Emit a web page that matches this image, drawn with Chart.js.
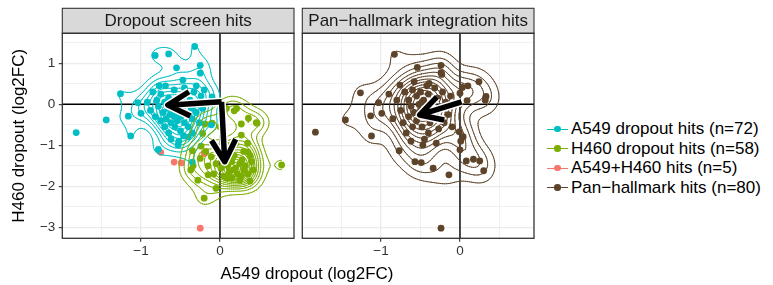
<!DOCTYPE html>
<html>
<head>
<meta charset="utf-8">
<script src="https://cdn.jsdelivr.net/npm/chart.js@4.4.0/dist/chart.umd.min.js"></script>
<style>
  body { margin: 0; background: #fff; font-family: "Liberation Sans", Arial, sans-serif; }
  #wrap { position: relative; width: 773px; height: 285px; overflow: hidden; }
  #c1 { position: absolute; left: 0; top: 0; }
  #c2 { position: absolute; left: 298px; top: 0; }
  #xtitle { position: absolute; left: 157px; width: 300px; top: 264px; line-height: 20px;
            text-align: center; font-size: 17px; color: #000; white-space: nowrap; }
  #legend { position: absolute; left: 545px; top: 119px; font-size: 17px; color: #000; }
  .item { position: relative; height: 19.5px; line-height: 20px; padding-left: 26px; white-space: nowrap; }
  .key { position: absolute; left: 2px; top: 9.5px; width: 21px; height: 1.2px; }
  .dot { position: absolute; left: 7.2px; top: -2.7px; width: 6.6px; height: 6.6px; border-radius: 50%; }
</style>
</head>
<body>
<div id="wrap">
  <canvas id="c1" width="298" height="285"></canvas>
  <canvas id="c2" width="240" height="285"></canvas>
  <div id="xtitle">A549 dropout (log2FC)</div>
  <div id="legend"></div>
</div>
<script>
// ---- data (x = A549 log2FC, y = H460 log2FC) ----
const a549Hits = [
  [-0.82,1.19],[-0.65,1.23],[-0.32,1.41],[-0.25,0.95],[-0.25,0.76],[-0.55,0.89],[-1.26,0.26],[-1.04,0.04],
  [-1.16,-0.29],[-1.44,-0.38],[-1.82,-0.69],[-1.13,-0.77],[-0.10,0.18],[-0.77,0.45],[-0.69,0.45],[-0.47,0.59],
  [-1.00,-0.22],[-0.78,-1.10],[-0.35,-1.41],[-0.11,-0.50],[-0.46,-0.77],[-0.53,-0.99],
  [-0.85,0.30],[-0.80,0.10],[-0.78,-0.05],[-0.75,0.25],[-0.72,-0.20],[-0.70,0.05],[-0.68,-0.35],[-0.66,-0.10],
  [-0.65,0.15],[-0.63,-0.25],[-0.62,-0.45],[-0.60,0.00],[-0.60,-0.15],[-0.58,-0.30],[-0.57,-0.55],[-0.55,0.10],
  [-0.55,-0.20],[-0.54,-0.40],[-0.52,-0.05],[-0.50,-0.30],[-0.50,-0.65],[-0.48,0.20],[-0.47,-0.15],[-0.45,-0.45],
  [-0.44,0.00],[-0.42,-0.25],[-0.40,-0.55],[-0.38,0.10],[-0.36,-0.10],[-0.35,-0.35],[-0.33,0.30],[-0.30,-0.20],
  [-0.28,0.00],[-0.26,-0.45],[-0.24,0.20],[-0.22,-0.10],[-0.70,-0.55],[-0.82,-0.30],[-0.88,-0.15],[-0.65,-0.70],
  [-0.58,0.35],[-0.45,0.40],[-0.40,-0.80],[-0.62,-0.85],[-0.75,-0.40],[-0.52,-0.90],[-0.30,0.45],[-0.92,0.05],
  [-0.20,0.35],[-0.35,-0.70]
];
const h460Hits = [
  [0.46,-0.45],[0.27,-0.48],[0.18,-0.16],[-0.19,-0.48],[-0.22,-0.71],[0.27,-0.75],[0.35,-1.16],[0.78,-1.48],
  [-0.20,-2.29],[-0.05,-2.05],[-0.28,-1.85],[-0.15,-1.72],[0.38,-1.87],[0.09,-1.80],[-0.37,-1.60],[-0.35,-1.13],
  [-0.25,-1.32],[-0.11,-1.28],[-0.34,-1.50],[-0.24,-1.02],[0.08,-0.10],[0.21,-0.10],[0.47,-0.46],[-0.10,-0.46],
  [0.36,-0.34],[0.00,-0.55],
  [0.05,-1.35],[0.10,-1.50],[0.15,-1.40],[0.20,-1.55],[0.25,-1.45],[0.30,-1.60],[0.12,-1.65],[0.22,-1.70],
  [0.28,-1.35],[0.18,-1.25],[0.08,-1.20],[0.32,-1.50],[0.35,-1.70],[0.02,-1.55],[-0.05,-1.45],[0.15,-1.80],
  [0.25,-1.85],[0.40,-1.40],[0.38,-1.25],[0.30,-1.15],[0.10,-1.00],[0.20,-0.95],[-0.08,-1.70],[0.05,-1.75],
  [0.42,-1.60],[-0.15,-1.50],[-0.18,-1.15],[0.17,-1.60],[0.27,-1.75],[0.12,-1.35],[-0.02,-1.10],[0.35,-0.95]
];
const bothHits = [[-0.75,-1.17],[-0.58,-1.41],[-0.49,-1.43],[-0.20,-1.20],[-0.25,-3.02]];
const panHits = [
  [-0.83,1.22],[-0.54,0.90],[-0.24,0.95],[-0.24,0.77],[-1.26,0.28],[-1.13,-0.28],[-1.45,-0.38],[-1.83,-0.68],
  [-1.12,-0.77],[0.10,0.45],[0.03,0.41],[0.24,0.55],[0.33,0.19],[0.09,0.09],[0.00,0.27],[-0.99,-0.22],
  [-1.03,0.04],[-0.76,0.47],[-0.39,0.51],[-0.23,0.73],[0.32,0.10],[-0.77,-1.13],[-0.57,-1.40],[-0.49,-1.42],
  [-0.34,-1.56],[-0.47,-0.99],[0.00,-1.11],[-0.01,-0.67],[0.08,-1.38],[0.17,-1.34],[0.25,-1.38],[0.30,-1.62],
  [-0.14,-1.72],[-0.24,-3.02],[0.04,-0.79],[0.01,-0.90],
  [-0.70,0.30],[-0.65,0.10],[-0.62,-0.05],[-0.60,0.35],[-0.58,-0.20],[-0.55,0.20],[-0.55,-0.40],[-0.52,0.00],
  [-0.50,-0.15],[-0.50,0.30],[-0.48,-0.55],[-0.46,0.10],[-0.45,-0.30],[-0.42,-0.05],[-0.40,0.25],[-0.40,-0.70],
  [-0.38,-0.45],[-0.36,0.05],[-0.35,-0.20],[-0.32,0.40],[-0.30,-0.35],[-0.28,0.15],[-0.27,-0.60],[-0.25,-0.10],
  [-0.22,0.30],[-0.20,-0.45],[-0.18,0.05],[-0.15,-0.25],[-0.12,0.20],[-0.10,-0.55],[-0.75,-0.15],[-0.72,-0.45],
  [-0.80,0.10],[-0.68,-0.70],[-0.62,-0.90],[-0.45,-0.85],[-0.30,-0.95],[-0.85,-0.35],[-0.58,0.55],[-0.42,0.45],
  [-0.90,0.25],[-0.65,-0.30],[-0.48,0.05],[-0.60,-0.55]
];
// arrows: [x0, y0, x1, y1]
const dropoutArrows = [[0.02, 0.06, -0.66, -0.02], [0.02, 0.06, 0.06, -1.40]];
const panArrows = [[0.02, 0.06, -0.51, -0.26]];

const stripLabels = ["Dropout screen hits", "Pan\u2212hallmark integration hits"];
const legendLabels = ["A549 dropout hits (n=72)", "H460 dropout hits (n=58)", "A549+H460 hits (n=5)", "Pan\u2212hallmark hits (n=80)"];
const legendColors = ["#00BFC4", "#7CAE00", "#F8766D", "#5C4329"];

const xBreaks = [-1.5, -1, -0.5, 0, 0.5];
const xMajor = [-1, 0];
const yBreaks = [-3, -2.5, -2, -1.5, -1, -0.5, 0, 0.5, 1, 1.5];
const yMajor = [-3, -2, -1, 0, 1];
const xLimits = [-1.996, 0.937];
const yLimits = [-3.268, 1.732];

// ---- 2d density like MASS::kde2d + contour lines ----
function q7(s, p) {
  const h = (s.length - 1) * p, lo = Math.floor(h);
  return s[lo] + (h - lo) * (s[Math.min(lo + 1, s.length - 1)] - s[lo]);
}
function bwNrd(v) {
  const s = v.slice().sort((a, b) => a - b);
  const iqr = (q7(s, 0.75) - q7(s, 0.25)) / 1.34;
  const m = v.reduce((a, b) => a + b, 0) / v.length;
  const sd = Math.sqrt(v.reduce((a, b) => a + (b - m) * (b - m), 0) / (v.length - 1));
  return 4 * 1.06 * Math.min(sd, iqr) * Math.pow(v.length, -0.2);
}
function pretty(lo, hi, n) {
  const cell = (hi - lo) / n, h = 1.5, h5 = 0.5 + 1.5 * h;
  const base = Math.pow(10, Math.floor(Math.log10(cell)));
  let unit = base;
  if (2 * base - cell < h * (cell - unit)) {
    unit = 2 * base;
    if (5 * base - cell < h5 * (cell - unit)) {
      unit = 5 * base;
      if (10 * base - cell < h * (cell - unit)) unit = 10 * base;
    }
  }
  const out = [];
  for (let k = Math.floor(lo / unit + 1e-7); k <= Math.ceil(hi / unit - 1e-7); k++) out.push(k * unit);
  return out;
}
function contourSegments(pts, lims) {
  const n = 100;
  const hx = bwNrd(pts.map(p => p[0])) / 4, hy = bwNrd(pts.map(p => p[1])) / 4;
  const gx = [], gy = [];
  for (let i = 0; i < n; i++) {
    gx.push(lims[0] + (lims[1] - lims[0]) * i / (n - 1));
    gy.push(lims[2] + (lims[3] - lims[2]) * i / (n - 1));
  }
  const dn = t => Math.exp(-0.5 * t * t) / Math.sqrt(2 * Math.PI);
  const ax = gx.map(g => pts.map(p => dn((g - p[0]) / hx)));
  const ay = gy.map(g => pts.map(p => dn((g - p[1]) / hy)));
  let zmin = Infinity, zmax = -Infinity;
  const z = gx.map((_, i) => gy.map((_, j) => {
    let s = 0;
    for (let k = 0; k < pts.length; k++) s += ax[i][k] * ay[j][k];
    s /= pts.length * hx * hy;
    zmin = Math.min(zmin, s); zmax = Math.max(zmax, s);
    return s;
  }));
  const levels = pretty(zmin, zmax, 10).filter(l => l > zmin && l < zmax);
  const segs = [];
  for (const lv of levels) {
    for (let i = 0; i < n - 1; i++) {
      for (let j = 0; j < n - 1; j++) {
        const v = [z[i][j], z[i + 1][j], z[i + 1][j + 1], z[i][j + 1]];
        const P = [[gx[i], gy[j]], [gx[i + 1], gy[j]], [gx[i + 1], gy[j + 1]], [gx[i], gy[j + 1]]];
        const c = [];
        for (let e = 0; e < 4; e++) {
          const a = e, b = (e + 1) % 4;
          if ((v[a] >= lv) !== (v[b] >= lv)) {
            const t = (lv - v[a]) / (v[b] - v[a]);
            c.push([P[a][0] + t * (P[b][0] - P[a][0]), P[a][1] + t * (P[b][1] - P[a][1])]);
          }
        }
        if (c.length === 2) segs.push([c[0], c[1]]);
        else if (c.length === 4) {
          const mid = (v[0] + v[1] + v[2] + v[3]) / 4;
          if ((mid >= lv) === (v[0] >= lv)) { segs.push([c[0], c[1]]); segs.push([c[2], c[3]]); }
          else { segs.push([c[3], c[0]]); segs.push([c[1], c[2]]); }
        }
      }
    }
  }
  return segs;
}

// density grid spans the data range of all layers (like ggplot scale dimension)
const allPts = a549Hits.concat(h460Hits, bothHits, panHits, [[0, 0]]);
const lims = [
  Math.min(...allPts.map(p => p[0])), Math.max(...allPts.map(p => p[0])),
  Math.min(...allPts.map(p => p[1])), Math.max(...allPts.map(p => p[1]))
];

const STRIP_TOP = 8.3;
const fmt = v => (v < 0 ? "\u2212" + Math.abs(v) : String(v));

function panelDecor(contours, arrows) {
  return {
    id: "panelDecor",
    beforeDraw(chart) {
      const { ctx, chartArea: a } = chart;
      ctx.save();
      ctx.fillStyle = "#D9D9D9";
      ctx.fillRect(a.left, STRIP_TOP, a.right - a.left, a.top - STRIP_TOP);
      ctx.strokeStyle = "#333333";
      ctx.lineWidth = 1.1;
      ctx.strokeRect(a.left, STRIP_TOP, a.right - a.left, a.top - STRIP_TOP);
      ctx.restore();
    },
    beforeDatasetsDraw(chart) {
      const { ctx, chartArea: a, scales: { x, y } } = chart;
      const px = x.getPixelForValue(0), py = y.getPixelForValue(0);
      ctx.save();
      ctx.strokeStyle = "#000";
      ctx.lineWidth = 1.4;
      ctx.beginPath();
      ctx.moveTo(px, a.top); ctx.lineTo(px, a.bottom);
      ctx.moveTo(a.left, py); ctx.lineTo(a.right, py);
      ctx.stroke();
      ctx.restore();
    },
    afterDatasetsDraw(chart) {
      const { ctx, chartArea: a, scales: { x, y } } = chart;
      ctx.save();
      ctx.beginPath();
      ctx.rect(a.left, a.top, a.right - a.left, a.bottom - a.top);
      ctx.clip();
      // density contours
      ctx.lineWidth = 0.9;
      ctx.lineCap = "round";
      contours.forEach(g => {
        ctx.strokeStyle = g.color;
        ctx.beginPath();
        g.segs.forEach(s => {
          ctx.moveTo(x.getPixelForValue(s[0][0]), y.getPixelForValue(s[0][1]));
          ctx.lineTo(x.getPixelForValue(s[1][0]), y.getPixelForValue(s[1][1]));
        });
        ctx.stroke();
      });
      // arrows (white halo first, then black)
      const head = 25, ang = 29 * Math.PI / 180;
      const path = ar => {
        const x0 = x.getPixelForValue(ar[0]), y0 = y.getPixelForValue(ar[1]);
        const x1 = x.getPixelForValue(ar[2]), y1 = y.getPixelForValue(ar[3]);
        const t = Math.atan2(y1 - y0, x1 - x0);
        ctx.moveTo(x0, y0); ctx.lineTo(x1, y1);
        ctx.moveTo(x1 + head * Math.cos(t + Math.PI - ang), y1 + head * Math.sin(t + Math.PI - ang));
        ctx.lineTo(x1, y1);
        ctx.lineTo(x1 + head * Math.cos(t + Math.PI + ang), y1 + head * Math.sin(t + Math.PI + ang));
      };
      ctx.lineJoin = "round";
      ctx.lineCap = "butt";
      [["#FFFFFF", 8.5], ["#000000", 5.5]].forEach(([col, w]) => {
        ctx.strokeStyle = col;
        ctx.lineWidth = w;
        ctx.beginPath();
        arrows.forEach(path);
        ctx.stroke();
      });
      ctx.restore();
    },
    afterDraw(chart) {
      const { ctx, chartArea: a } = chart;
      ctx.save();
      ctx.strokeStyle = "#333333";
      ctx.lineWidth = 1.3;
      ctx.strokeRect(a.left, a.top, a.right - a.left, a.bottom - a.top);
      ctx.restore();
    }
  };
}

Chart.defaults.font.family = "'Liberation Sans', Arial, sans-serif";

function pointSet(data, color) {
  return {
    data: data.map(p => ({ x: p[0], y: p[1] })),
    backgroundColor: color, borderWidth: 0, pointRadius: 3.4
  };
}

function makeChart(canvasId, datasets, strip, contours, arrows, withYAxis, pad) {
  return new Chart(document.getElementById(canvasId), {
    type: "scatter",
    data: { datasets },
    options: {
      responsive: false,
      animation: false,
      devicePixelRatio: 1,
      events: [],
      layout: { padding: { left: 0, right: pad, top: STRIP_TOP, bottom: 0 } },
      plugins: {
        legend: { display: false },
        tooltip: { enabled: false },
        title: {
          display: true, text: strip, fullSize: false, color: "#1A1A1A",
          font: { size: 17, weight: "normal" }, padding: { top: 2.4, bottom: 2.2 }
        }
      },
      scales: {
        x: {
          type: "linear", min: xLimits[0], max: xLimits[1],
          afterBuildTicks: s => { s.ticks = xBreaks.map(v => ({ value: v })); },
          afterFit: s => { s.height = 285 - 238.3; },
          ticks: {
            autoSkip: false, maxRotation: 0, padding: 1.5, color: "#333333", font: { size: 13.5 },
            callback: v => (xMajor.includes(v) ? fmt(v) : "")
          },
          grid: {
            color: "#EBEBEB", tickLength: 3.5, tickWidth: 1.1,
            lineWidth: c => (c.tick && xMajor.includes(c.tick.value) ? 1.3 : 0.7),
            tickColor: c => (c.tick && xMajor.includes(c.tick.value) ? "#333333" : "rgba(0,0,0,0)")
          },
          border: { display: false }
        },
        y: {
          type: "linear", min: yLimits[0], max: yLimits[1],
          afterBuildTicks: s => { s.ticks = yBreaks.map(v => ({ value: v })); },
          afterFit: s => { s.width = withYAxis ? 62.3 : 4.3; },
          ticks: {
            display: withYAxis, autoSkip: false, padding: 3.5, color: "#333333", font: { size: 13.5 },
            callback: v => (yMajor.includes(v) ? fmt(v) : "")
          },
          grid: {
            color: "#EBEBEB", drawTicks: withYAxis, tickLength: 3.5, tickWidth: 1.1,
            lineWidth: c => (c.tick && yMajor.includes(c.tick.value) ? 1.3 : 0.7),
            tickColor: c => (c.tick && yMajor.includes(c.tick.value) ? "#333333" : "rgba(0,0,0,0)")
          },
          border: { display: false },
          title: {
            display: withYAxis, text: "H460 dropout (log2FC)", color: "#000",
            font: { size: 17 }, padding: { top: 9.3, bottom: 0 }
          }
        }
      }
    },
    plugins: [panelDecor(contours, arrows)]
  });
}

makeChart("c1",
  [pointSet(a549Hits, legendColors[0]), pointSet(h460Hits, legendColors[1]), pointSet(bothHits, legendColors[2])],
  stripLabels[0],
  [{ color: legendColors[0], segs: contourSegments(a549Hits, lims) },
   { color: legendColors[1], segs: contourSegments(h460Hits, lims) }],
  dropoutArrows, true, 4);

makeChart("c2",
  [pointSet(panHits, legendColors[3])],
  stripLabels[1],
  [{ color: legendColors[3], segs: contourSegments(panHits, lims) }],
  panArrows, false, 3.7);

// legend
const legendEl = document.getElementById("legend");
legendLabels.forEach((lab, i) => {
  const item = document.createElement("div");
  item.className = "item";
  item.innerHTML = `<span class="key" style="background:${legendColors[i]}"><span class="dot" style="background:${legendColors[i]}"></span></span>${lab}`;
  legendEl.appendChild(item);
});
</script>
</body>
</html>
